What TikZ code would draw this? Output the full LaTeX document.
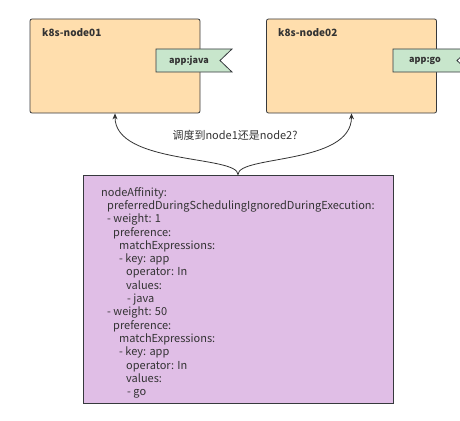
\documentclass[tikz,border=0pt]{standalone}
\usepackage{fontspec}
\setmainfont{Noto Sans CJK SC}
\usetikzlibrary{arrows.meta}

\definecolor{linegray}{HTML}{36393D}
\definecolor{textgray}{HTML}{333333}
\definecolor{hostfill}{HTML}{FFDEAD}
\definecolor{tagfill}{HTML}{C8E6CC}
\definecolor{rulefill}{HTML}{E0BEE6}

\begin{document}
\begin{tikzpicture}[x=1pt,y=-1pt,
  hostbox/.style={draw=linegray,fill=hostfill,line width=0.8pt,rounded corners=2pt,
    minimum width=170pt,minimum height=94pt,inner sep=0pt},
  hosttitle/.style={anchor=west,inner sep=0pt,text=textgray,font=\fontsize{10}{12}\selectfont\bfseries},
  tagline/.style={draw=linegray,fill=tagfill,line width=0.8pt},
  tagtext/.style={inner sep=0pt,text=textgray,font=\fontsize{9}{11}\selectfont\bfseries},
  rulebox/.style={draw=linegray,fill=rulefill,line width=0.8pt,
    minimum width=310pt,minimum height=228pt,inner sep=0pt},
  choice/.style={draw=textgray,line width=0.8pt,-{Stealth[length=6pt,width=5pt]}}]

  \useasboundingbox (0,0) rectangle (460,420);

  % Two worker nodes
  \node[hostbox] (node01) at (115,66) {};
  \node[hostbox] (node02) at (351.5,66) {};
  \node[hosttitle] (title01) at (42,33) {k8s-node01};
  \node[hosttitle] (title02) at (278,33) {k8s-node02};

  % Node labels
  \draw[tagline] (156,49) -- (232,49) -- (220,60.5) -- (232,72) -- (156,72) -- cycle;
  \node[tagtext] (javatag) at (189,60.5) {app:java};
  \draw[tagline] (393,49) -- (469,49) -- (457,60.5) -- (469,72) -- (393,72) -- cycle;
  \node[tagtext] (gotag) at (425,60.5) {app:go};

  % Affinity rule
  \node[rulebox] (affinity) at (238,289) {};
  \node[anchor=north west,align=left,inner sep=0pt,text=textgray,
    font=\fontsize{11}{13.3}\selectfont] (yaml) at (101,187) {%
    nodeAffinity:\\
    \hspace*{6pt}preferredDuringSchedulingIgnoredDuringExecution:\\
    \hspace*{6pt}- weight: 1\\
    \hspace*{12pt}preference:\\
    \hspace*{18pt}matchExpressions:\\
    \hspace*{18pt}- key: app\\
    \hspace*{25pt}operator: In\\
    \hspace*{25pt}values:\\
    \hspace*{26pt}- java\\
    \hspace*{6pt}- weight: 50\\
    \hspace*{12pt}preference:\\
    \hspace*{18pt}matchExpressions:\\
    \hspace*{18pt}- key: app\\
    \hspace*{25pt}operator: In\\
    \hspace*{25pt}values:\\
    \hspace*{26pt}- go};

  % Scheduling question
  \draw[choice] (affinity.north) .. controls (238,155) and (115,165) .. (node01.south);
  \draw[choice] (affinity.north) .. controls (238,155) and (351.5,165) .. (node02.south);
  \node[text=textgray,font=\fontsize{11}{13}\selectfont] (ask) at (235,135) {调度到node1还是node2?};

\end{tikzpicture}
\end{document}
